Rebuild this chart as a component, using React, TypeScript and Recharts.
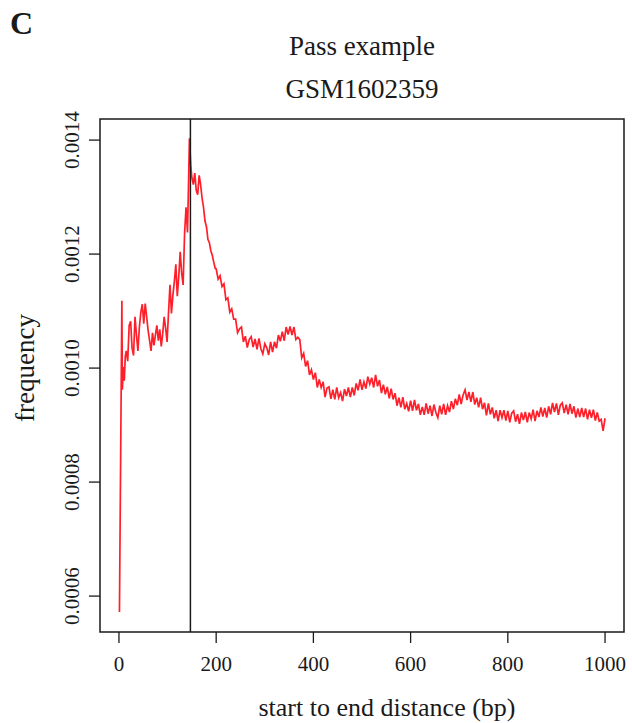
import { LineChart, Line, XAxis, YAxis, ReferenceLine, ReferenceArea } from "recharts";

// start-to-end distance (bp) of each sampled point
const distance = [
  1, 6, 7, 9, 11, 13, 15, 18, 21, 24, 27, 30, 33, 36, 39, 42, 45, 48, 51, 54,
  57, 60, 63, 66, 69, 72, 75, 78, 81, 84, 87, 90, 93, 96, 99, 102, 105, 108, 111, 114,
  117, 120, 123, 126, 129, 132, 135, 138, 141, 143, 145, 148, 150, 153, 156, 159, 162, 165, 168, 171,
  174, 177, 180, 183, 186, 189, 192, 195, 198,
  200, 204, 208, 212, 216, 220, 224, 228, 232, 236,
  240, 244, 248, 252, 256, 260, 264, 268, 272, 276,
  280, 284, 288, 292, 296, 300, 304, 308, 312, 316,
  320, 324, 328, 332, 336, 340, 344, 348, 352, 356,
  360, 364, 368, 372, 376, 380, 384, 388, 392, 396,
  400, 404, 408, 412, 416, 420, 424, 428, 432, 436,
  440, 444, 448, 452, 456, 460, 464, 468, 472, 476,
  480, 484, 488, 492, 496, 500, 504, 508, 512, 516,
  520, 524, 528, 532, 536, 540, 544, 548, 552, 556,
  560, 564, 568, 572, 576, 580, 584, 588, 592, 596,
  600, 604, 608, 612, 616, 620, 624, 628, 632, 636,
  640, 644, 648, 652, 656, 660, 664, 668, 672, 676,
  680, 684, 688, 692, 696, 700, 704, 708, 712, 716,
  720, 724, 728, 732, 736, 740, 744, 748, 752, 756,
  760, 764, 768, 772, 776, 780, 784, 788, 792, 796,
  800, 804, 808, 812, 816, 820, 824, 828, 832, 836,
  840, 844, 848, 852, 856, 860, 864, 868, 872, 876,
  880, 884, 888, 892, 896, 900, 904, 908, 912, 916,
  920, 924, 928, 932, 936, 940, 944, 948, 952, 956,
  960, 964, 968, 972, 976, 980, 984, 988, 992, 996,
  1000,
];

// frequency, in units of 1e-6
const frequencyE6 = [
  572, 1118, 962, 1002, 978, 1020, 1030, 1012, 1075, 1082, 1035, 1022, 1090, 1058, 1030, 1072, 1098, 1112, 1078, 1113,
  1090, 1066, 1048, 1030, 1062, 1040, 1058, 1075, 1048, 1068, 1038, 1060, 1090, 1070, 1046, 1098, 1146, 1096, 1128, 1152,
  1182, 1126, 1160, 1204, 1166, 1146, 1236, 1282, 1238, 1318, 1403, 1352, 1334, 1322, 1342, 1312, 1304, 1338, 1322, 1298,
  1282, 1258, 1248, 1226, 1220, 1206, 1198, 1186, 1175,
  1174, 1156, 1162, 1143, 1148, 1120, 1123, 1098, 1104, 1086,
  1086, 1062, 1069, 1072, 1046, 1056, 1036, 1050, 1055, 1037,
  1051, 1033, 1052, 1034, 1025, 1043, 1036, 1023, 1046, 1028,
  1046, 1035, 1058, 1047, 1064, 1048, 1072, 1059, 1073, 1058,
  1072, 1050, 1054, 1050, 1018, 1026, 1003, 1013, 988, 997,
  980, 992, 966, 980, 966, 976, 949, 965, 967, 946,
  962, 945, 966, 948, 957, 942, 963, 951, 966, 949,
  966, 952, 973, 961, 980, 962, 976, 964, 985, 972,
  983, 966, 988, 968, 979, 956, 971, 954, 967, 947,
  964, 945, 956, 934, 948, 931, 949, 928, 938, 924,
  943, 925, 944, 926, 937, 918, 932, 918, 938, 920,
  934, 916, 936, 922, 913, 934, 919, 937, 918, 934,
  923, 942, 928, 946, 935, 954, 937, 953, 962, 944,
  958, 941, 958, 936, 948, 931, 948, 928, 939, 917,
  938, 919, 931, 912, 926, 907, 926, 913, 926, 908,
  925, 905, 921, 925, 906, 919, 902, 922, 909, 923,
  905, 922, 911, 927, 907, 925, 914, 931, 915, 930,
  913, 933, 919, 939, 923, 938, 918, 935, 939, 921,
  936, 919, 937, 920, 933, 913, 929, 914, 930, 914,
  929, 910, 927, 913, 927, 908, 922, 907, 910, 890,
  912,
];

const xTicks = [0, 200, 400, 600, 800, 1000];
const yTicks = [0.0006, 0.0008, 0.001, 0.0012, 0.0014];
const markerDistance = 147;

const data = distance.map((d, i) => ({ bp: d, freq: frequencyE6[i] / 1e6 }));

const serif = '"Liberation Serif", "Times New Roman", serif';
const ink = "#1a1a1a";

function XTick(props: any) {
  const { x, payload } = props;
  return (
    <text x={x} y={664} textAnchor="middle" dominantBaseline="central" fontFamily={serif} fontSize={21} fill={ink}>
      {payload.value}
    </text>
  );
}

function YTick(props: any) {
  const { y, payload } = props;
  return (
    <text
      x={72}
      y={y}
      transform={`rotate(-90 72 ${y})`}
      textAnchor="middle"
      dominantBaseline="central"
      fontFamily={serif}
      fontSize={21}
      fill={ink}
    >
      {Number(payload.value).toFixed(4)}
    </text>
  );
}

export default function App() {
  return (
    <div
      style={{
        position: "absolute",
        left: 0,
        top: 0,
        width: 632,
        height: 723,
        background: "#fff",
        fontFamily: serif,
        color: ink,
      }}
    >
      <div style={{ position: "absolute", left: 0, top: 0 }}>
        <LineChart width={632} height={723} data={data} margin={{ top: 119, right: 8, bottom: 0, left: 0 }}>
          <XAxis
            dataKey="bp"
            type="number"
            domain={[-39, 1039]}
            allowDataOverflow
            ticks={xTicks}
            tick={<XTick />}
            tickSize={11}
            tickLine={{ stroke: ink, strokeWidth: 1.3 }}
            axisLine={false}
            height={91}
          />
          <YAxis
            type="number"
            domain={[0.000537, 0.001437]}
            allowDataOverflow
            ticks={yTicks}
            tick={<YTick />}
            tickSize={11}
            tickLine={{ stroke: ink, strokeWidth: 1.3 }}
            axisLine={false}
            width={100}
          />
          <ReferenceArea
            x1={-39}
            x2={1039}
            y1={0.000537}
            y2={0.001437}
            fill="none"
            stroke={ink}
            strokeWidth={1.5}
            ifOverflow="visible"
          />
          <Line
            dataKey="freq"
            type="linear"
            stroke="#ff1f2a"
            strokeWidth={1.7}
            dot={false}
            activeDot={false}
            isAnimationActive={false}
          />
          <ReferenceLine x={markerDistance} stroke={ink} strokeWidth={1.5} ifOverflow="visible" />
        </LineChart>
      </div>

      <div style={{ position: "absolute", left: 10, top: 5, fontSize: 32, fontWeight: 700 }}>C</div>
      <div
        style={{
          position: "absolute",
          left: 100,
          width: 524,
          top: 25,
          textAlign: "center",
          fontSize: 27,
          lineHeight: "43px",
        }}
      >
        Pass example
        <br />
        GSM1602359
      </div>
      <div
        style={{
          position: "absolute",
          left: 125,
          width: 524,
          top: 693,
          textAlign: "center",
          fontSize: 26,
          lineHeight: "30px",
          whiteSpace: "nowrap",
        }}
      >
        start to end distance (bp)
      </div>
      <div
        style={{
          position: "absolute",
          left: 25,
          top: 368,
          transform: "translate(-50%, -50%) rotate(-90deg)",
          fontSize: 27,
          lineHeight: "30px",
          whiteSpace: "nowrap",
        }}
      >
        frequency
      </div>
    </div>
  );
}
